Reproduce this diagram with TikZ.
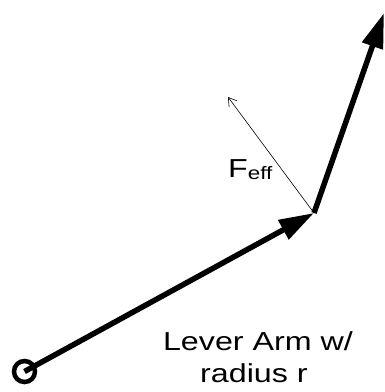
\documentclass[tikz,border=0pt]{standalone}
\usepackage{fontspec}
\setmainfont{Liberation Sans}
\usetikzlibrary{arrows.meta}
\newcommand{\stretchtxt}[1]{\scalebox{1.24}[1]{#1}}
\begin{document}
\begin{tikzpicture}[x=1pt,y=-1pt,
  thick arm/.style={line width=5.5pt,-{Triangle[length=35pt,width=21pt]}},
  thin arrow/.style={line width=0.6pt,-{Straight Barb[length=8pt,width=10pt]}},
  label txt/.style={inner sep=0pt,font=\fontsize{26}{32}\selectfont}]
\useasboundingbox (0,0) rectangle (385,392);
\coordinate (pivot) at (24.5,371.5);
\coordinate (elbow) at (314,213);
\coordinate (top) at (384,13);
\coordinate (feff) at (228,97);
\draw[line width=4.5pt] (pivot) circle[radius=10.5pt];
\draw[thick arm] (pivot) -- (elbow);
\draw[thick arm] (elbow) -- (top);
\draw[thin arrow] (elbow) -- (feff);
\node[label txt,anchor=base west] (flabel) at (228,177) {\stretchtxt{F\raisebox{-2pt}{\fontsize{18}{20}\selectfont eff}}};
\node[label txt,anchor=base] (arm1) at (258,350) {\stretchtxt{Lever Arm w/}};
\node[label txt,anchor=base] (arm2) at (254,382) {\stretchtxt{radius r}};
\end{tikzpicture}
\end{document}
